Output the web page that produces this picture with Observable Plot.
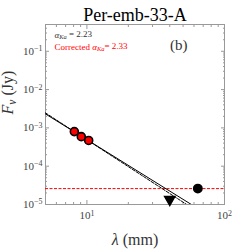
<!DOCTYPE html>
<html><head>
<meta charset="utf-8">
<script src="https://cdn.jsdelivr.net/npm/d3@7"></script>
<script src="https://cdn.jsdelivr.net/npm/@observablehq/plot@0.6"></script>
<style>body{margin:0;background:#fff}svg{overflow:visible}</style>
</head><body><div id="chart"></div>
<script>
// Data
const kaWavelength = [8.1, 9.1, 10.3];      // mm
const kaFlux = [8.0e-4, 5.9e-4, 4.7e-4];    // Jy
const cWavelength = [64];
const cFlux = [2.6e-5];
const limitWavelength = [40];
const limitFlux = [1.35e-5];
const noiseLevel = [2.6e-5];
const alphaKa = 2.23;
const alphaCorrected = 2.33;
const titleText = "Per-emb-33-A";
const panelLabel = "(b)";
const xDecades = [10, 100];
const yDecades = [1e-5, 1e-4, 1e-3, 1e-2, 1e-1];
const xDomain = [5, 100];
const yDomain = [1e-5, 0.5];

// Minor ticks
const xMinor = [];
for (const d of [1, 10]) for (let k = 2; k <= 9; k++) { const v = k * d; if (v > xDomain[0] && v < xDomain[1]) xMinor.push(v); }
const yMinor = [];
for (const d of yDecades) for (let k = 2; k <= 9; k++) { const v = k * d; if (v < yDomain[1]) yMinor.push(v); }

// Fixed-slope fits through the Ka points (least squares in log space)
function fitLine(alpha) {
  const logA = d3.mean(kaWavelength, (l, i) => Math.log10(kaFlux[i]) + alpha * Math.log10(l));
  return xDomain.map(l => ({x: l, y: Math.pow(10, logA - alpha * Math.log10(l))}));
}
const fitKa = fitLine(alphaKa);
const fitCorr = fitLine(alphaCorrected);

const ka = kaWavelength.map((x, i) => ({x, y: kaFlux[i]}));
const cband = cWavelength.map((x, i) => ({x, y: cFlux[i]}));
const lim = limitWavelength.map((x, i) => ({x, y: limitFlux[i]}));

const gray = "#999";
const pow = d => "10^" + Math.round(Math.log10(d));
const blank = () => "";

const chart = Plot.plot({
  width: 249, height: 249,
  marginLeft: 45, marginRight: 25, marginTop: 24, marginBottom: 45,
  x: {type: "log", domain: xDomain},
  y: {type: "log", domain: yDomain},
  style: {fontFamily: "Liberation Serif", background: "white", color: "#333"},
  marks: [
    // ticks (inward, mirrored)
    Plot.axisX({anchor: "bottom", ticks: xDecades, tickSize: -4, tickFormat: blank, stroke: gray, label: null}),
    Plot.axisX({anchor: "top", ticks: xDecades, tickSize: -4, tickFormat: blank, stroke: gray, label: null}),
    Plot.axisX({anchor: "bottom", ticks: xMinor, tickSize: -2, tickFormat: blank, stroke: gray, label: null}),
    Plot.axisX({anchor: "top", ticks: xMinor, tickSize: -2, tickFormat: blank, stroke: gray, label: null}),
    Plot.axisY({anchor: "left", ticks: yDecades, tickSize: -4, tickFormat: blank, stroke: gray, label: null}),
    Plot.axisY({anchor: "right", ticks: yDecades, tickSize: -4, tickFormat: blank, stroke: gray, label: null}),
    Plot.axisY({anchor: "left", ticks: yMinor, tickSize: -2, tickFormat: blank, stroke: gray, label: null}),
    Plot.axisY({anchor: "right", ticks: yMinor, tickSize: -2, tickFormat: blank, stroke: gray, label: null}),
    // labels
    Plot.axisX({anchor: "bottom", ticks: xDecades, tickSize: 0, tickPadding: 7, tickFormat: pow, fontSize: 11, fill: "#444", label: null}),
    Plot.axisY({anchor: "left", ticks: yDecades, tickSize: 0, tickPadding: 3, tickFormat: pow, fontSize: 11, fill: "#444", label: null}),
    Plot.frame({stroke: gray}),
    Plot.ruleY(noiseLevel, {stroke: "red", strokeDasharray: "3,1.5", strokeWidth: 1}),
    Plot.line(fitKa, {x: "x", y: "y", stroke: "black", strokeWidth: 1, clip: true}),
    Plot.line(fitCorr, {x: "x", y: "y", stroke: "black", strokeWidth: 1, strokeDasharray: "3,1.5", clip: true}),
    Plot.dot(ka, {x: "x", y: "y", r: 4, fill: "red", stroke: "black", strokeWidth: 1.6}),
    Plot.dot(cband, {x: "x", y: "y", r: 4.2, fill: "black", stroke: "black"}),
    Plot.dot(lim, {x: "x", y: "y", r: 3.8, symbol: "triangle", rotate: 180, fill: "black", stroke: "black"}),
    Plot.text([titleText], {frameAnchor: "top", lineAnchor: "bottom", dy: -4, fontSize: 18, fill: "black"}),
    Plot.text([panelLabel], {frameAnchor: "top-right", textAnchor: "end", lineAnchor: "middle", dx: -37, dy: 21, fontSize: 15, fill: "#333"}),
    Plot.text(["ALPHA1"], {frameAnchor: "top-left", textAnchor: "start", lineAnchor: "bottom", dx: 9, dy: 13, fontSize: 9, fill: "#333"}),
    Plot.text(["ALPHA2"], {frameAnchor: "top-left", textAnchor: "start", lineAnchor: "bottom", dx: 9, dy: 25, fontSize: 9, fill: "red"}),
    Plot.text(["XLABEL"], {frameAnchor: "bottom", lineAnchor: "bottom", dy: 40, fontSize: 16, fill: "#333"}),
    Plot.text(["YLABEL"], {frameAnchor: "left", rotate: -90, lineAnchor: "top", dx: -44, fontSize: 16, fill: "#333"})
  ]
});
document.getElementById("chart").appendChild(chart);

// Rich text: superscripts / subscripts
const svg = d3.select(chart);
svg.selectAll("text").each(function () {
  const t = this.textContent;
  const el = d3.select(this);
  if (/^10\^/.test(t)) {
    const e = t.slice(3).replace("-", "\u2212");
    el.text(null);
    el.append("tspan").text("10");
    el.append("tspan").attr("dy", "-0.45em").attr("font-size", "0.72em").text(e);
  } else if (t === "ALPHA1" || t === "ALPHA2") {
    el.text(null);
    if (t === "ALPHA2") el.append("tspan").text("Corrected ");
    el.append("tspan").attr("font-style", "italic").text("\u03B1");
    el.append("tspan").attr("font-style", "italic").attr("dy", "0.3em").attr("font-size", "0.72em").text("Ka");
    el.append("tspan").attr("dy", "-0.22em").text(t === "ALPHA1" ? " = " + alphaKa.toFixed(2) : "= " + alphaCorrected.toFixed(2));
  } else if (t === "XLABEL") {
    el.text(null);
    el.append("tspan").attr("font-style", "italic").text("\u03BB");
    el.append("tspan").text(" (mm)");
  } else if (t === "YLABEL") {
    el.text(null);
    el.append("tspan").attr("font-style", "italic").text("F");
    el.append("tspan").attr("font-style", "italic").attr("dy", "0.3em").attr("font-size", "0.72em").text("\u03BD");
    el.append("tspan").attr("dy", "-0.22em").text(" (Jy)");
  }
});
</script>
</body></html>
